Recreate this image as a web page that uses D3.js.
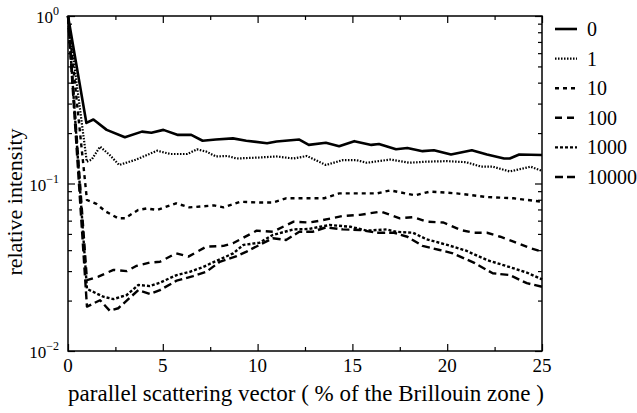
<!DOCTYPE html>
<html>
<head>
<meta charset="utf-8">
<script src="https://cdn.jsdelivr.net/npm/d3@7"></script>
<style>
  body { margin: 0; background: #fff; }
</style>
</head>
<body>
<div id="chart"></div>
<script>
// series data: [x in % BZ, relative intensity]
var s0 = [[0,1],[0.97,0.23],[1.34,0.241],[2.04,0.209],[3.0,0.189],[3.9,0.204],[4.4,0.201],[5.03,0.209],[5.8,0.195],[6.5,0.195],[7.1,0.18],[7.8,0.183],[8.7,0.186],[9.4,0.18],[10.5,0.174],[11.0,0.178],[12.2,0.183],[12.7,0.17],[13.6,0.175],[14.3,0.167],[15.1,0.179],[16.0,0.17],[16.4,0.172],[17.3,0.16],[17.9,0.163],[18.7,0.156],[19.3,0.158],[20.2,0.149],[21.3,0.158],[22.1,0.149],[23.0,0.141],[23.3,0.141],[23.8,0.149],[25,0.148]];
var s1 = [[0,1],[0.99,0.135],[1.25,0.139],[1.69,0.166],[2.2,0.148],[2.7,0.129],[3.6,0.139],[4.7,0.157],[5.4,0.15],[6.3,0.15],[6.8,0.16],[7.3,0.155],[7.8,0.145],[8.4,0.146],[8.9,0.141],[10.1,0.143],[11.0,0.145],[11.9,0.141],[12.6,0.146],[13.6,0.129],[14.5,0.138],[15.2,0.138],[15.75,0.133],[17.0,0.139],[18.0,0.133],[18.9,0.135],[20.0,0.136],[21.0,0.134],[21.8,0.126],[22.4,0.126],[23.3,0.118],[24.4,0.126],[25,0.119]];
var s10 = [[0,1],[1.0,0.0797],[1.5,0.0755],[2.0,0.0679],[2.65,0.062],[3.0,0.062],[3.7,0.0695],[4.15,0.071],[4.7,0.0695],[5.7,0.0762],[6.4,0.072],[7.7,0.074],[8.2,0.072],[9.1,0.0778],[10.1,0.077],[10.8,0.077],[11.5,0.0816],[12.2,0.0816],[13.5,0.0816],[14.3,0.0873],[16.3,0.0873],[17.0,0.091],[18.3,0.085],[19.1,0.0895],[20.5,0.0873],[22.1,0.083],[23.5,0.0816],[25,0.0778]];
var s100 = [[0,1],[1.0,0.0265],[1.6,0.0278],[2.4,0.0305],[3.1,0.030],[3.6,0.0322],[4.3,0.0337],[4.85,0.0341],[5.7,0.0383],[6.35,0.0366],[7.3,0.042],[8.2,0.0424],[8.7,0.044],[9.95,0.0523],[10.8,0.0515],[11.9,0.0592],[12.7,0.0585],[13.3,0.06],[14.5,0.064],[15.4,0.065],[16.5,0.068],[17.5,0.062],[18.2,0.063],[18.9,0.0592],[19.8,0.0585],[20.7,0.0528],[21.4,0.0508],[22.1,0.0508],[22.8,0.0481],[23.5,0.045],[24.4,0.041],[25,0.0392]];
var s1000 = [[0,1],[1.0,0.0235],[1.86,0.0211],[2.39,0.0204],[3.1,0.0216],[3.71,0.0248],[4.32,0.0244],[4.85,0.0256],[5.73,0.0284],[6.43,0.0297],[7.14,0.0318],[7.84,0.0346],[8.72,0.0383],[9.25,0.043],[10.1,0.0443],[10.8,0.0493],[11.9,0.0532],[12.7,0.0535],[13.3,0.0552],[13.8,0.0565],[14.9,0.0552],[15.75,0.0523],[16.8,0.0532],[17.3,0.0515],[18.2,0.0508],[18.9,0.0465],[20.0,0.043],[21.0,0.0397],[22.1,0.0349],[23.1,0.0322],[24.2,0.0294],[25,0.0268]];
var s10000 = [[0,1],[1.0,0.0184],[1.69,0.0201],[2.2,0.0174],[2.65,0.018],[3.71,0.0231],[4.32,0.0219],[4.85,0.0231],[5.73,0.0263],[6.6,0.028],[7.3,0.0297],[8.0,0.0341],[8.9,0.0369],[9.42,0.0392],[10.1,0.043],[10.8,0.0471],[11.5,0.046],[12.2,0.0515],[12.9,0.0515],[13.6,0.0547],[14.5,0.0532],[15.4,0.0528],[16.3,0.0508],[17.2,0.0508],[17.9,0.0481],[18.7,0.0424],[19.6,0.0401],[20.3,0.0383],[21.4,0.0337],[22.4,0.0291],[23.3,0.0284],[24.2,0.0254],[25,0.0242]];

var seriesNames = ["0", "1", "10", "100", "1000", "10000"];
var seriesData = [s0, s1, s10, s100, s1000, s10000];
var xMajor = [0, 5, 10, 15, 20, 25];
var xMinor = [2.5, 7.5, 12.5, 17.5, 22.5];
var yMajor = [1, 0.1, 0.01];
var yExp = ["0", "\u22121", "\u22122"];

// dimensions
var width = 637;
var height = 413;
var plotL = 68, plotR = 542, plotT = 16, plotB = 351;
var serif = "Liberation Serif, DejaVu Serif, Times New Roman, serif";

// dash style per series
var dashes = [null, "1.5,1.5", "4,4", "7,5", "3,2", "8,4"];
var widths = [2.6, 2.2, 2.4, 2.4, 2.4, 2.4];

var svg = d3.select("#chart")
    .append("svg")
    .attr("width", width)
    .attr("height", height);

var x = d3.scaleLinear().domain([0, 25]).range([plotL, plotR]);
var y = d3.scaleLog().domain([0.01, 1]).range([plotB, plotT]);

// minor log ticks
var yMinor = [];
[0.01, 0.1].forEach(function (d) {
    for (var k = 2; k <= 9; k++) yMinor.push(d * k);
});

// frame
svg.append("rect")
    .attr("x", plotL).attr("y", plotT)
    .attr("width", plotR - plotL).attr("height", plotB - plotT)
    .attr("fill", "none").attr("stroke", "#000").attr("stroke-width", 1.5);

function tickAxis(axisFn, scale, vals, size, tx) {
    svg.append("g")
        .attr("transform", tx)
        .call(axisFn(scale).tickValues(vals).tickSize(size).tickFormat(""))
        .call(function (g) { g.select(".domain").remove(); })
        .selectAll("line").attr("stroke", "#000").attr("stroke-width", 1.2);
}

// ticks point inward
tickAxis(d3.axisBottom, x, xMajor, -7, "translate(0," + plotB + ")");
tickAxis(d3.axisBottom, x, xMinor, -4, "translate(0," + plotB + ")");
tickAxis(d3.axisTop, x, xMajor, -7, "translate(0," + plotT + ")");
tickAxis(d3.axisTop, x, xMinor, -4, "translate(0," + plotT + ")");
tickAxis(d3.axisLeft, y, yMajor, -7, "translate(" + plotL + ",0)");
tickAxis(d3.axisLeft, y, yMinor, -4, "translate(" + plotL + ",0)");
tickAxis(d3.axisRight, y, yMajor, -7, "translate(" + plotR + ",0)");
tickAxis(d3.axisRight, y, yMinor, -4, "translate(" + plotR + ",0)");

// x tick labels
svg.selectAll(".xlab")
    .data(xMajor)
    .enter()
    .append("text")
    .attr("class", "xlab")
    .attr("x", function (d) { return x(d); })
    .attr("y", 372)
    .attr("text-anchor", "middle")
    .attr("font-family", serif)
    .attr("font-size", "19px")
    .text(function (d) { return d; });

// y tick labels 10^n
yMajor.forEach(function (d, i) {
    var t = svg.append("text")
        .attr("x", 59)
        .attr("y", y(d) + 7)
        .attr("text-anchor", "end")
        .attr("font-family", serif)
        .attr("font-size", "17px");
    t.append("tspan").text("10");
    t.append("tspan")
        .attr("dy", -8)
        .attr("font-size", "12px")
        .text(yExp[i]);
});

// axis titles
svg.append("text")
    .attr("x", (plotL + plotR) / 2 + 1)
    .attr("y", 401)
    .attr("text-anchor", "middle")
    .attr("font-family", serif)
    .attr("font-size", "23px")
    .text("parallel scattering vector ( % of the Brillouin zone )");

svg.append("text")
    .attr("transform", "translate(22,202) rotate(-90)")
    .attr("text-anchor", "middle")
    .attr("font-family", serif)
    .attr("font-size", "22px")
    .text("relative intensity");

// lines
var line = d3.line()
    .x(function (d) { return x(d[0]); })
    .y(function (d) { return y(d[1]); });

svg.append("g")
    .selectAll("path")
    .data(seriesData)
    .enter()
    .append("path")
    .attr("d", line)
    .attr("fill", "none")
    .attr("stroke", "#000")
    .attr("stroke-linejoin", "round")
    .attr("stroke-width", function (d, i) { return widths[i]; })
    .attr("stroke-dasharray", function (d, i) { return dashes[i]; });

// legend
var legend = svg.append("g")
    .selectAll("g")
    .data(seriesNames)
    .enter()
    .append("g")
    .attr("transform", function (d, i) {
        return "translate(555," + (29 + i * 29.6) + ")";
    });

legend.append("line")
    .attr("x1", 0).attr("x2", 22)
    .attr("stroke", "#000")
    .attr("stroke-width", function (d, i) { return widths[i]; })
    .attr("stroke-dasharray", function (d, i) { return dashes[i]; });

legend.append("text")
    .attr("x", 32)
    .attr("y", 7)
    .attr("font-family", serif)
    .attr("font-size", "20px")
    .text(function (d) { return d; });
</script>
</body>
</html>
